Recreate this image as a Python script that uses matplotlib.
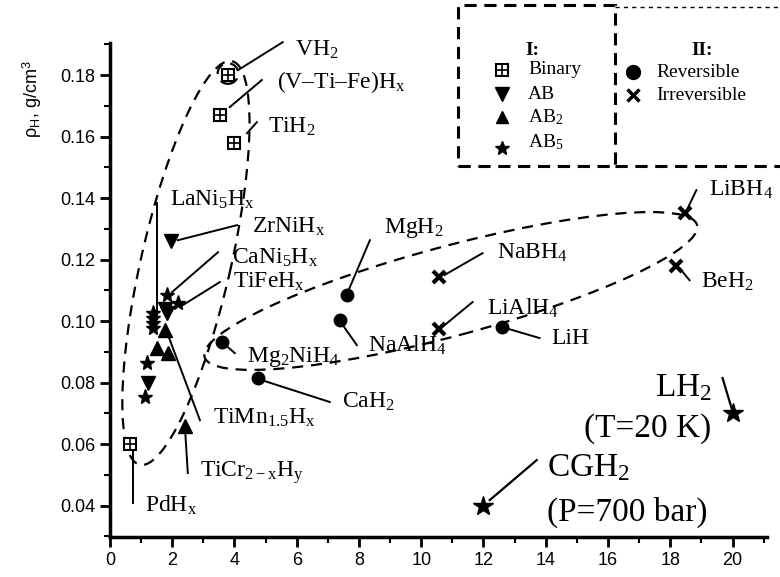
import matplotlib
matplotlib.use('Agg')
import matplotlib.pyplot as plt
from matplotlib.patches import Ellipse, Rectangle
from matplotlib.transforms import Affine2D
from matplotlib.lines import Line2D
from matplotlib.ticker import MultipleLocator, FormatStrFormatter

plt.rcParams['font.family'] = ['Liberation Serif', 'DejaVu Serif']
plt.rcParams['mathtext.fontset'] = 'custom'
plt.rcParams['mathtext.rm'] = 'Liberation Serif'
plt.rcParams['mathtext.it'] = 'Liberation Serif'
plt.rcParams['mathtext.bf'] = 'Liberation Serif:bold'
plt.rcParams['mathtext.sf'] = 'Liberation Sans'

# 数据点 (x: 质量密度, y: 体积密度 g/cm3)
binary_x = [3.79, 3.53, 4.00, 0.64]
binary_y = [0.180, 0.167, 0.158, 0.060]
ab_x = [1.96, 1.78, 1.84, 1.22]
ab_y = [0.126, 0.104, 0.1025, 0.080]
ab2_x = [1.77, 1.51, 1.85, 2.40]
ab2_y = [0.097, 0.0912, 0.0897, 0.066]
ab5_x = [1.83, 2.18, 1.38, 1.38, 1.38, 1.38, 1.19, 1.12]
ab5_y = [0.1085, 0.1058, 0.1026, 0.1010, 0.0993, 0.0977, 0.0863, 0.0753]
rev_x = [7.6, 7.4, 3.6, 4.76, 12.6]
rev_y = [0.1085, 0.1003, 0.0932, 0.0815, 0.098]
irr_x = [10.57, 10.57, 18.2, 18.46]
irr_y = [0.1143, 0.0974, 0.118, 0.1351]
gas_x = [20.0, 12.0]
gas_y = [0.070, 0.040]

# 标注: 文字, 文字位置, 引线起点, 引线终点, 字号, 对齐
labels = [
    ('VH$_2$', (5.94, 0.1881), (4.11, 0.1816), (5.55, 0.1907)),
    ('(V\u2013Ti\u2013Fe)H$_x$', (5.36, 0.1777), (3.85, 0.1696), (4.88, 0.1784)),
    ('TiH$_2$', (5.07, 0.1631), (4.40, 0.1611), (4.72, 0.1647)),
    ('LaNi$_5$H$_x$', (1.93, 0.1393), (1.51, 0.1384), (1.51, 0.1013)),
    ('ZrNiH$_x$', (4.56, 0.1306), (2.18, 0.1263), (4.08, 0.1312)),
    ('CaNi$_5$H$_x$', (3.92, 0.1205), (1.99, 0.1094), (3.47, 0.1224)),
    ('TiFeH$_x$', (3.95, 0.1127), (2.34, 0.1052), (3.53, 0.1127)),
    ('Mg$_2$NiH$_4$', (4.40, 0.0883), (3.60, 0.0932), (4.01, 0.0896)),
    ('TiMn$_{1.5}$H$_x$', (3.31, 0.0684), (1.83, 0.0964), (2.89, 0.0678)),
    ('TiCr$_{2-x}$H$_y$', (2.89, 0.0509), (2.41, 0.0652), (2.50, 0.0506)),
    ('PdH$_x$', (1.12, 0.0402), (0.74, 0.0590), (0.74, 0.0408)),
    ('MgH$_2$', (8.80, 0.1302), (7.60, 0.1085), (8.35, 0.1263)),
    ('NaAlH$_4$', (8.28, 0.0922), (7.48, 0.0987), (7.93, 0.0922)),
    ('NaBH$_4$', (12.42, 0.1221), (10.75, 0.1150), (11.97, 0.1221)),
    ('LiAlH$_4$', (12.10, 0.1042), (10.75, 0.0987), (11.65, 0.1062)),
    ('LiH', (14.19, 0.0945), (12.62, 0.0980), (13.80, 0.0945)),
    ('LiBH$_4$', (19.26, 0.1426), (18.56, 0.1367), (18.84, 0.1426)),
    ('BeH$_2$', (19.00, 0.1127), (18.30, 0.1172), (18.62, 0.1133)),
    ('CaH$_2$', (7.45, 0.0737), (4.88, 0.0808), (7.06, 0.0737)),
]
big_labels = [
    ('LH$_2$', (19.33, 0.0782), 'right'),
    ('(T=20 K)', (19.33, 0.0652), 'right'),
    ('CGH$_2$', (14.03, 0.0522), 'left'),
    ('(P=700 bar)', (14.03, 0.0379), 'left'),
]
big_leaders = [((19.97, 0.0717), (19.68, 0.0815)), ((12.2, 0.0418), (13.71, 0.0548))]

legend_I = ['Binary', 'AB', 'AB$_2$', 'AB$_5$']
legend_II = ['Reversible', 'Irreversible']

fig = plt.figure(figsize=(7.8, 5.77), dpi=100)
ax = fig.add_axes([0.141, 0.0693, 0.842, 0.856])
xmin, xmax, ymin, ymax = 0, 21.1, 0.0298, 0.1904
ax.set_xlim(xmin, xmax)
ax.set_ylim(ymin, ymax)

for s in ['top', 'right']:
    ax.spines[s].set_visible(False)
for s in ['left', 'bottom']:
    ax.spines[s].set_linewidth(2.5)
ax.xaxis.set_major_locator(MultipleLocator(2))
ax.xaxis.set_minor_locator(MultipleLocator(1))
ax.yaxis.set_major_locator(MultipleLocator(0.02))
ax.yaxis.set_minor_locator(MultipleLocator(0.01))
ax.yaxis.set_major_formatter(FormatStrFormatter('%.2f'))
ax.tick_params(which='major', length=7, width=2, direction='out')
ax.tick_params(which='minor', length=4, width=1.5, direction='out')
for lab in ax.get_xticklabels() + ax.get_yticklabels():
    lab.set_fontfamily('Liberation Sans')
    lab.set_fontsize(13)

fig.text(0.042, 0.828, r'$\mathsf{\rho_H}$, g/cm$^\mathsf{3}$', rotation=90,
         ha='center', va='center', fontsize=13, family='Liberation Sans')

# 椭圆 (屏幕比例下的坐标)
bbox = ax.get_position()
r = (bbox.width * 780 / (xmax - xmin)) / (bbox.height * 577 / (ymax - ymin))
tr = Affine2D().scale(1, r) + ax.transData
ell_kw = dict(fill=False, ls=(0, (5, 3.5)), lw=1.6, color='black', transform=tr, clip_on=False)
ax.add_patch(Ellipse((2.44, 0.1189 / r), 2 * 6.65, 2 * 1.44, angle=77.1, **ell_kw))
ax.add_patch(Ellipse((10.95, 0.1098 / r), 2 * 8.19, 2 * 1.44, angle=15, **ell_kw))
ax.add_patch(Ellipse((3.79, 0.1805 / r), 0.66, 0.66, **ell_kw))

# 数据点
ax.plot(binary_x, binary_y, 's', ms=8, mfc='white', mec='black', mew=1.5, zorder=5)
ax.plot(binary_x, binary_y, '+', ms=8, mec='black', mew=1.2, zorder=6)
ax.plot(ab_x, ab_y, 'v', ms=10, color='black', zorder=5)
ax.plot(ab2_x, ab2_y, '^', ms=10, color='black', zorder=5)
ax.plot(ab5_x, ab5_y, '*', ms=11, color='black', zorder=5)
ax.plot(rev_x, rev_y, 'o', ms=9, color='black', zorder=5)
ax.plot(irr_x, irr_y, 'x', ms=9, mew=3, color='black', zorder=5)
ax.plot(gas_x, gas_y, '*', ms=15, color='black', zorder=5)

for text, tpos, p0, p1 in labels:
    ax.plot([p0[0], p1[0]], [p0[1], p1[1]], '-', color='black', lw=1.4, clip_on=False)
    ax.text(tpos[0], tpos[1], text, fontsize=17, ha='left', va='center', clip_on=False)
for p0, p1 in big_leaders:
    ax.plot([p0[0], p1[0]], [p0[1], p1[1]], '-', color='black', lw=1.6)
for text, tpos, ha in big_labels:
    ax.text(tpos[0], tpos[1], text, fontsize=24, ha=ha, va='center')

# 图例框
fig.patches.append(Rectangle((0.587, 0.712), 0.201, 0.279, transform=fig.transFigure,
                             fill=False, ls=(0, (4, 2.5)), lw=2.2, color='black'))
fig.add_artist(Line2D([0.788, 1.0], [0.988, 0.988], transform=fig.transFigure,
                      ls=(0, (3, 3)), lw=1.0, color='black'))
fig.add_artist(Line2D([0.788, 1.0], [0.712, 0.712], transform=fig.transFigure,
                      ls=(0, (4, 2.5)), lw=2.2, color='black'))

fig.text(0.683, 0.913, 'I:', fontsize=14, weight='bold', ha='center', va='center')
fig.text(0.900, 0.913, 'II:', fontsize=14, weight='bold', ha='center', va='center')
rows_I = [0.879, 0.837, 0.797, 0.754]
marks_I = [('s', 9), ('v', 10), ('^', 9), ('*', 10)]
for lab, yy, (m, ms) in zip(legend_I, rows_I, marks_I):
    if m == 's':
        fig.add_artist(Line2D([0.644], [yy], marker='s', ms=ms, mfc='white', mec='black',
                              mew=1.5, transform=fig.transFigure))
        fig.add_artist(Line2D([0.644], [yy], marker='+', ms=ms, mec='black',
                              mew=1.2, transform=fig.transFigure))
    else:
        fig.add_artist(Line2D([0.644], [yy - (0.01 if m == '*' else 0)], marker=m, ms=ms,
                              color='black', transform=fig.transFigure))
    fig.text(0.677, yy, lab, fontsize=14, ha='left', va='center')
rows_II = [0.875, 0.835]
marks_II = [('o', 10, 1), ('x', 8, 2.5)]
for lab, yy, (m, ms, mew) in zip(legend_II, rows_II, marks_II):
    fig.add_artist(Line2D([0.812], [yy], marker=m, ms=ms, mew=mew, color='black',
                          transform=fig.transFigure))
    fig.text(0.842, yy, lab, fontsize=14, ha='left', va='center')

fig.savefig('out.png', dpi=100)
